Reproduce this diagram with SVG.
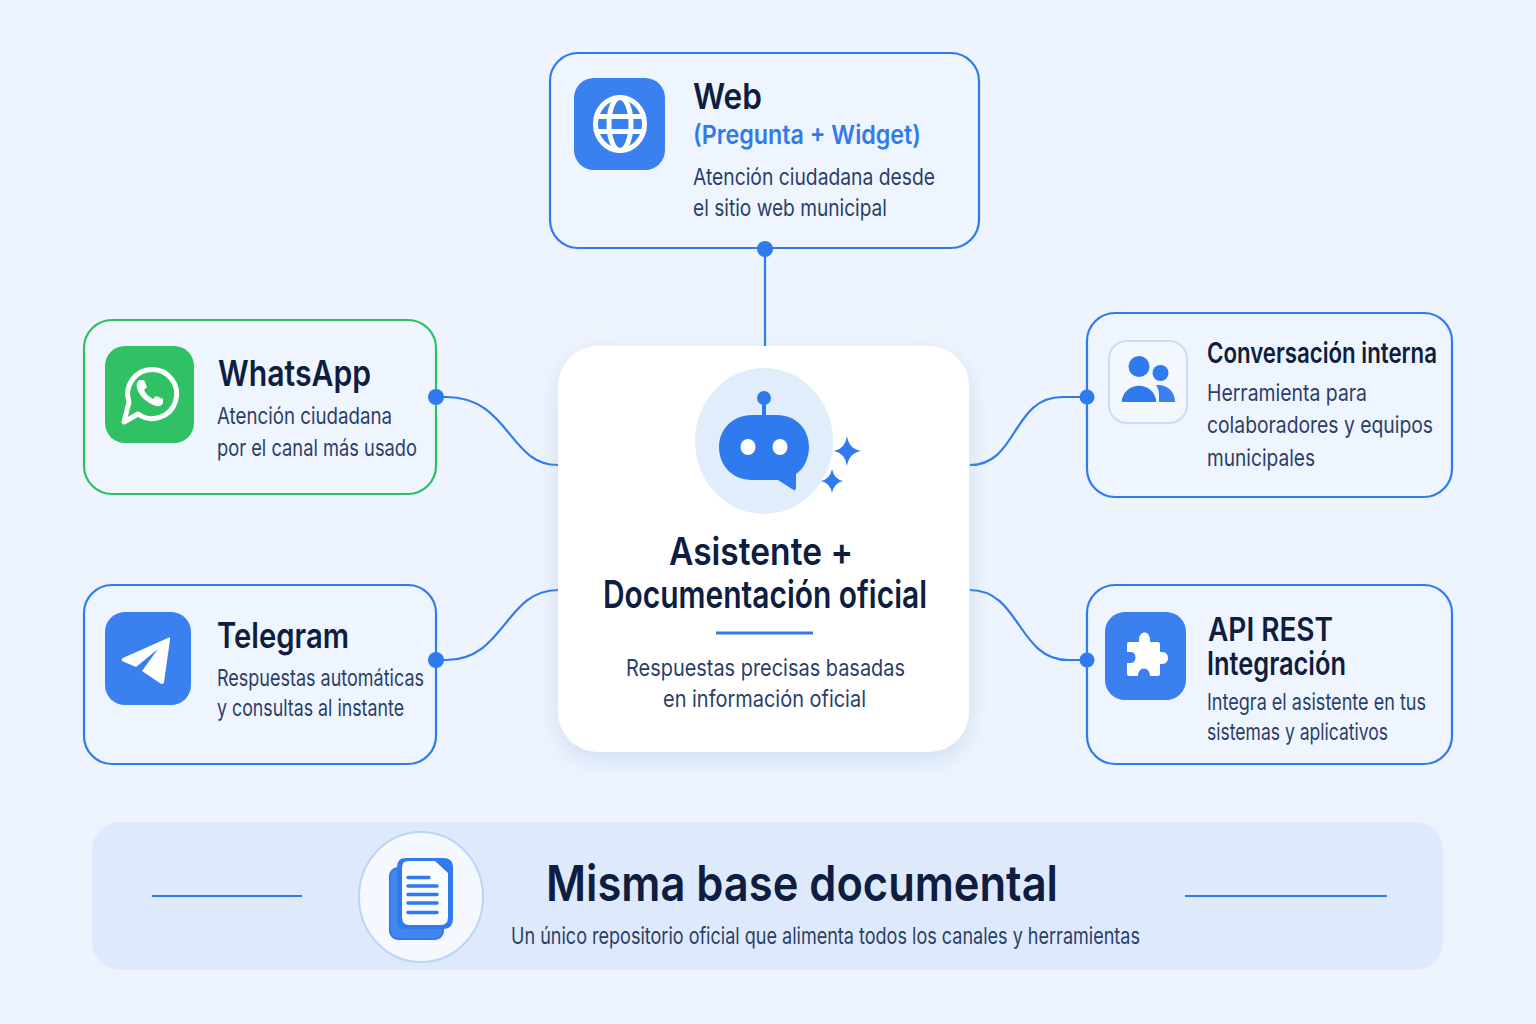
<svg xmlns="http://www.w3.org/2000/svg" width="1536" height="1024" viewBox="0 0 1536 1024">
<style>
text{font-family:Inter,"Noto Sans","Liberation Sans",sans-serif}
.t{font-weight:600;fill:#0e1d40}
.b{font-weight:400;fill:#2b3e69;font-size:23px}
.u{font-weight:600;fill:#2f7bee;font-size:26px}
.card{fill:#eff5fe;stroke:#2f7bee;stroke-width:2.200}
.ib{fill:#3a80ee}
.con{fill:none;stroke:#2f7bee;stroke-width:2.200}
.dot{fill:#2f7bee}
.wl{fill:none;stroke:#fff;stroke-linecap:butt;stroke-linejoin:round}
</style>
<defs>
<filter id="sh" x="-20%" y="-20%" width="140%" height="140%"><feDropShadow dx="0" dy="8" stdDeviation="12" flood-color="#7fa4dc" flood-opacity=".28"/></filter>
</defs>
<rect width="1536" height="1024" fill="#eef4fd"/>
<g id="connectors">
<path class="con" d="M765 249V346"/>
<path class="con" d="M436 397H446C510 397 508 465 558 465"/>
<path class="con" d="M436 660H446C505 660 505 590 558 590"/>
<path class="con" d="M970 465C1018 465 1012 397 1062 397H1087"/>
<path class="con" d="M970 590C1020 590 1018 660 1068 660H1087"/>
</g>
<g id="node-web">
<rect class="card" x="550" y="53" width="429" height="195" rx="28"/>
<rect class="ib" x="574" y="78" width="91" height="92" rx="20"/>
<g class="wl" stroke-width="5"><ellipse cx="620" cy="124" rx="24.500" ry="26.500"/><ellipse cx="620" cy="124" rx="11" ry="26.500"/><path d="M597 116.500H643M597 131.500H643"/></g>
<text class="t" x="693" y="109" font-size="36" textLength="69" lengthAdjust="spacingAndGlyphs">Web</text>
<text class="u" x="693" y="144" textLength="228" lengthAdjust="spacingAndGlyphs">(Pregunta + Widget)</text>
<text class="b" x="693" y="185" textLength="242" lengthAdjust="spacingAndGlyphs">Atención ciudadana desde</text>
<text class="b" x="693" y="216" textLength="194" lengthAdjust="spacingAndGlyphs">el sitio web municipal</text>
<circle class="dot" cx="765" cy="249" r="8"/>
</g>
<g id="node-whatsapp">
<rect class="card" style="stroke:#2fbf62" x="84" y="320" width="352" height="174" rx="28"/>
<rect x="105" y="346" width="89" height="97" rx="20" fill="#2fc163"/>
<path d="M124 422L129 402A24.500 24.500 0 1 1 138 414Z" fill="none" stroke="#fff" stroke-width="5" stroke-linejoin="round"/>
<path d="M140 380C137 381 136 384 137 388C139 396 147 403 156 406C160 407 163 405 163 402L163 399L156 396L153 399C149 397 146 394 144 390L147 387L144 380Z" fill="#fff"/>
<text class="t" x="218" y="386" font-size="36" textLength="153" lengthAdjust="spacingAndGlyphs">WhatsApp</text>
<text class="b" x="217" y="424" textLength="175" lengthAdjust="spacingAndGlyphs">Atención ciudadana</text>
<text class="b" x="217" y="456" textLength="200" lengthAdjust="spacingAndGlyphs">por el canal más usado</text>
<circle class="dot" cx="436" cy="397" r="8"/>
</g>
<g id="node-telegram">
<rect class="card" x="84" y="585" width="352" height="179" rx="28"/>
<rect class="ib" x="105" y="612" width="86" height="93" rx="20"/>
<path d="M169 637.500C170 637 170.500 638 170 640L164 682C164 684 162 684.500 160.500 683.500L142 671L158 649L136 667L123 661.500C121 660 121.500 658.500 123 658Z" fill="#fff"/>
<text class="t" x="217" y="648" font-size="35" textLength="132" lengthAdjust="spacingAndGlyphs">Telegram</text>
<text class="b" x="217" y="686" textLength="207" lengthAdjust="spacingAndGlyphs">Respuestas automáticas</text>
<text class="b" x="217" y="716" textLength="187" lengthAdjust="spacingAndGlyphs">y consultas al instante</text>
<circle class="dot" cx="436" cy="660" r="8"/>
</g>
<g id="node-conversacion">
<rect class="card" x="1087" y="313" width="365" height="184" rx="28"/>
<rect x="1109" y="341" width="78" height="82" rx="18" fill="#f3f8ff" stroke="#c8dcf8" stroke-width="2"/>
<circle cx="1139" cy="366.500" r="10.500" fill="#2f7bee"/>
<circle cx="1160.500" cy="373" r="8" fill="#2f7bee"/>
<path d="M1122 402V399A17.500 17.500 0 0 1 1156 399V402Z" fill="#2f7bee"/>
<path d="M1156 385C1167 384 1175 391 1175 402H1159V396C1159 391 1158 388 1156 385Z" fill="#3a80ee"/>
<text class="t" x="1207" y="363" font-size="28" textLength="230" lengthAdjust="spacingAndGlyphs">Conversación interna</text>
<text class="b" x="1207" y="401" textLength="160" lengthAdjust="spacingAndGlyphs">Herramienta para</text>
<text class="b" x="1207" y="433" textLength="226" lengthAdjust="spacingAndGlyphs">colaboradores y equipos</text>
<text class="b" x="1207" y="466" textLength="108" lengthAdjust="spacingAndGlyphs">municipales</text>
<circle class="dot" cx="1087" cy="397" r="7.500"/>
</g>
<g id="node-api">
<rect class="card" x="1087" y="585" width="365" height="179" rx="28"/>
<rect class="ib" x="1105" y="612" width="81" height="88" rx="20"/>
<path d="M1129 642Q1127 642 1127 644V652H1131C1137 652 1137 663 1131 663H1127V674Q1127 676 1129 676H1138C1138 666 1150 666 1150 676H1158Q1160 676 1160 674V664H1162C1170 664 1170 652 1162 652H1160V644Q1160 642 1158 642H1150V640C1150 630 1139 630 1139 640V642Z" fill="#fff"/>
<text class="t" font-size="32"><tspan x="1208" y="641" textLength="125" lengthAdjust="spacingAndGlyphs">API REST</tspan><tspan x="1207" y="675" textLength="139" lengthAdjust="spacingAndGlyphs">Integración</tspan></text>
<text class="b" x="1207" y="710" textLength="219" lengthAdjust="spacingAndGlyphs">Integra el asistente en tus</text>
<text class="b" x="1207" y="740" textLength="181" lengthAdjust="spacingAndGlyphs">sistemas y aplicativos</text>
<circle class="dot" cx="1087" cy="660" r="7.500"/>
</g>
<g id="node-center">
<rect x="558" y="346" width="411" height="406" rx="40" fill="#fff" filter="url(#sh)"/>
<ellipse cx="764" cy="441" rx="69" ry="73" fill="#e2edfb"/>
<circle cx="764" cy="398" r="7" fill="#2f7bee"/>
<path d="M764 400V416" stroke="#2f7bee" stroke-width="4"/>
<path d="M752 415H777C796 415 809 429 809 447C809 458 804 469 796 474V487Q796 492 792 489L778 480H752C733 480 719 466 719 447C719 429 733 415 752 415Z" fill="#2f7bee"/>
<ellipse cx="748" cy="447" rx="7.500" ry="8" fill="#fff"/>
<ellipse cx="780" cy="447" rx="7.500" ry="8" fill="#fff"/>
<path d="M847 436Q849 449 861 451Q849 453 847 466Q845 453 834 451Q845 449 847 436Z" fill="#2f7bee"/>
<path d="M832 469Q834 479 843 481Q834 483 832 493Q830 483 821 481Q830 479 832 469Z" fill="#2f7bee"/>
<text class="t" x="669" y="565" font-size="38" textLength="184" lengthAdjust="spacingAndGlyphs">Asistente +</text>
<text class="t" x="603" y="608" font-size="38" textLength="324" lengthAdjust="spacingAndGlyphs">Documentación oficial</text>
<path d="M716 633H813" stroke="#2f7bee" stroke-width="3"/>
<text class="b" x="626" y="676" textLength="279" lengthAdjust="spacingAndGlyphs">Respuestas precisas basadas</text>
<text class="b" x="663" y="707" textLength="203" lengthAdjust="spacingAndGlyphs">en información oficial</text>
</g>
<g id="node-base">
<rect x="92" y="822" width="1351" height="148" rx="28" fill="#deeafb"/>
<path d="M152 896H302M1185 896H1387" stroke="#2f7bee" stroke-width="2" fill="none"/>
<ellipse cx="421" cy="897" rx="62" ry="65" fill="#f5f9ff" stroke="#bcd4f7" stroke-width="2"/>
<rect x="390" y="868" width="53" height="71" rx="8" fill="#4486ee" stroke="#2f7bee" stroke-width="2"/>
<path d="M406 858H443Q453 858 453 867V918Q453 929 443 929H406Q397 929 397 920V867Q397 858 406 858Z" fill="#2f7bee"/>
<path d="M408 861H435L448 873V917Q448 925 441 925H409Q402 925 402 917V868Q402 861 408 861Z" fill="#f8fbff"/>
<path d="M408 877.500H429M408 886H437M408 894.500H437M408 903H437M408 912.500H437" stroke="#2f7bee" stroke-width="3.500" stroke-linecap="round" fill="none"/>
<text class="t" x="546" y="901" font-size="50" textLength="512" lengthAdjust="spacingAndGlyphs">Misma base documental</text>
<text class="b" x="511" y="944" textLength="629" lengthAdjust="spacingAndGlyphs">Un único repositorio oficial que alimenta todos los canales y herramientas</text>
</g>
</svg>
